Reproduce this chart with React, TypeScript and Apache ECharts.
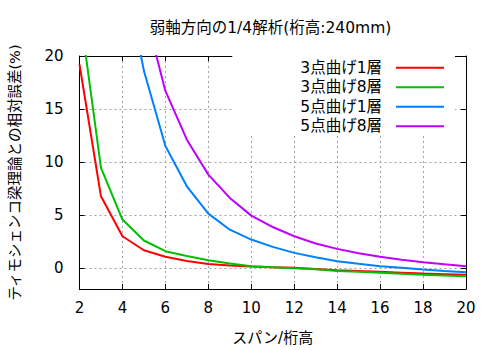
import React, { useEffect, useRef } from "react";
import * as echarts from "echarts";

const titleText = "弱軸方向の1/4解析(桁高:240mm)";
const xName = "スパン/桁高";
const yName = "ティモシェンコ梁理論との相対誤差(%)";

const spans = [2, 3, 4, 5, 6, 7, 8, 9, 10, 11, 12, 13, 14, 15, 16, 17, 18, 19, 20];
const seriesNames = ["3点曲げ1層", "3点曲げ8層", "5点曲げ1層", "5点曲げ8層"];
const colors = ["#ff0000", "#00c000", "#0080ff", "#c000ff"];

const threePt1 = [19.2, 6.75, 2.98, 1.66, 1.04, 0.65, 0.37, 0.22, 0.12, 0.05, 0.0, -0.1, -0.22, -0.3, -0.38, -0.46, -0.54, -0.6, -0.66];
const threePt8 = [24.5, 9.43, 4.56, 2.58, 1.57, 1.12, 0.72, 0.4, 0.15, 0.05, -0.04, -0.13, -0.3, -0.38, -0.47, -0.56, -0.66, -0.72, -0.79];
const fivePt1 = [100, 50, 29, 18.6, 11.5, 7.7, 5.12, 3.6, 2.67, 1.98, 1.41, 1.0, 0.63, 0.38, 0.15, 0.0, -0.16, -0.3, -0.41];
const fivePt8 = [140, 65, 37, 24.6, 16.7, 12.1, 8.8, 6.6, 4.93, 3.85, 2.98, 2.3, 1.79, 1.38, 1.04, 0.76, 0.53, 0.33, 0.15];

const allValues = [threePt1, threePt8, fivePt1, fivePt8];

const FONT = "'DejaVu Sans', 'Noto Sans CJK JP', sans-serif";

export default function App() {
  const ref = useRef<HTMLDivElement>(null);
  useEffect(() => {
    if (!ref.current) return;
    const chart = echarts.init(ref.current, undefined, { renderer: "svg" });
    const gridLine = { show: true, lineStyle: { color: "#a0a0a0", type: [2, 3] as any, width: 1 } };
    const axisLine = { show: true, onZero: false, lineStyle: { color: "#000", width: 1 } };
    const tick = { show: true, inside: true, length: 5, lineStyle: { color: "#000" } };
    chart.setOption({
      animation: false,
      backgroundColor: "#fff",
      textStyle: { fontFamily: FONT },
      graphic: [
        {
          type: "text",
          x: 270.5,
          y: 28,
          style: {
            text: titleText,
            fontFamily: FONT,
            fontSize: 15.5,
            fill: "#000",
            textAlign: "center",
            textVerticalAlign: "middle",
          },
        },
      ],
      grid: { left: 79, right: 34, top: 56, bottom: 61, containLabel: false },
      legend: {
        orient: "vertical",
        right: 45,
        top: 55,
        align: "right",
        data: seriesNames,
        icon: "rect",
        itemWidth: 48,
        itemHeight: 2,
        itemGap: 4,
        backgroundColor: "#fff",
        padding: [5, 11, 1, 68],
        textStyle: { fontFamily: FONT, fontSize: 15.5, color: "#000", lineHeight: 15, padding: [0, 9, 0, 0] },
      },
      xAxis: [
        {
          type: "value",
          min: 2,
          max: 20,
          interval: 2,
          name: xName,
          nameLocation: "middle",
          nameGap: 41,
          nameTextStyle: { fontFamily: FONT, fontSize: 15, color: "#000" },
          axisLine,
          axisTick: tick,
          axisLabel: { fontFamily: FONT, fontSize: 15, color: "#000", margin: 11 },
          splitLine: gridLine,
        },
        {
          type: "value",
          position: "top",
          min: 2,
          max: 20,
          interval: 2,
          axisLine,
          axisTick: tick,
          axisLabel: { show: false },
          splitLine: { show: false },
        },
      ],
      yAxis: [
        {
          type: "value",
          min: -2,
          max: 20,
          splitNumber: 5,
          name: yName,
          nameLocation: "middle",
          nameGap: 57,
          nameTextStyle: { fontFamily: FONT, fontSize: 14.5, color: "#000" },
          axisLine,
          axisTick: tick,
          axisLabel: { fontFamily: FONT, fontSize: 15, color: "#000", margin: 16, showMinLabel: false },
          splitLine: gridLine,
        },
        {
          type: "value",
          position: "right",
          min: -2,
          max: 20,
          splitNumber: 5,
          axisLine,
          axisTick: tick,
          axisLabel: { show: false },
          splitLine: { show: false },
        },
      ],
      series: seriesNames.map((name, i) => ({
        name,
        type: "line",
        xAxisIndex: 0,
        yAxisIndex: 0,
        symbol: "none",
        clip: true,
        lineStyle: { color: colors[i], width: 2 },
        itemStyle: { color: colors[i] },
        data: spans.map((x, j) => [x, allValues[i][j]]),
      })),
    });
    return () => chart.dispose();
  }, []);
  return <div ref={ref} style={{ width: 500, height: 350, position: "fixed", left: 0, top: 0 }} />;
}
